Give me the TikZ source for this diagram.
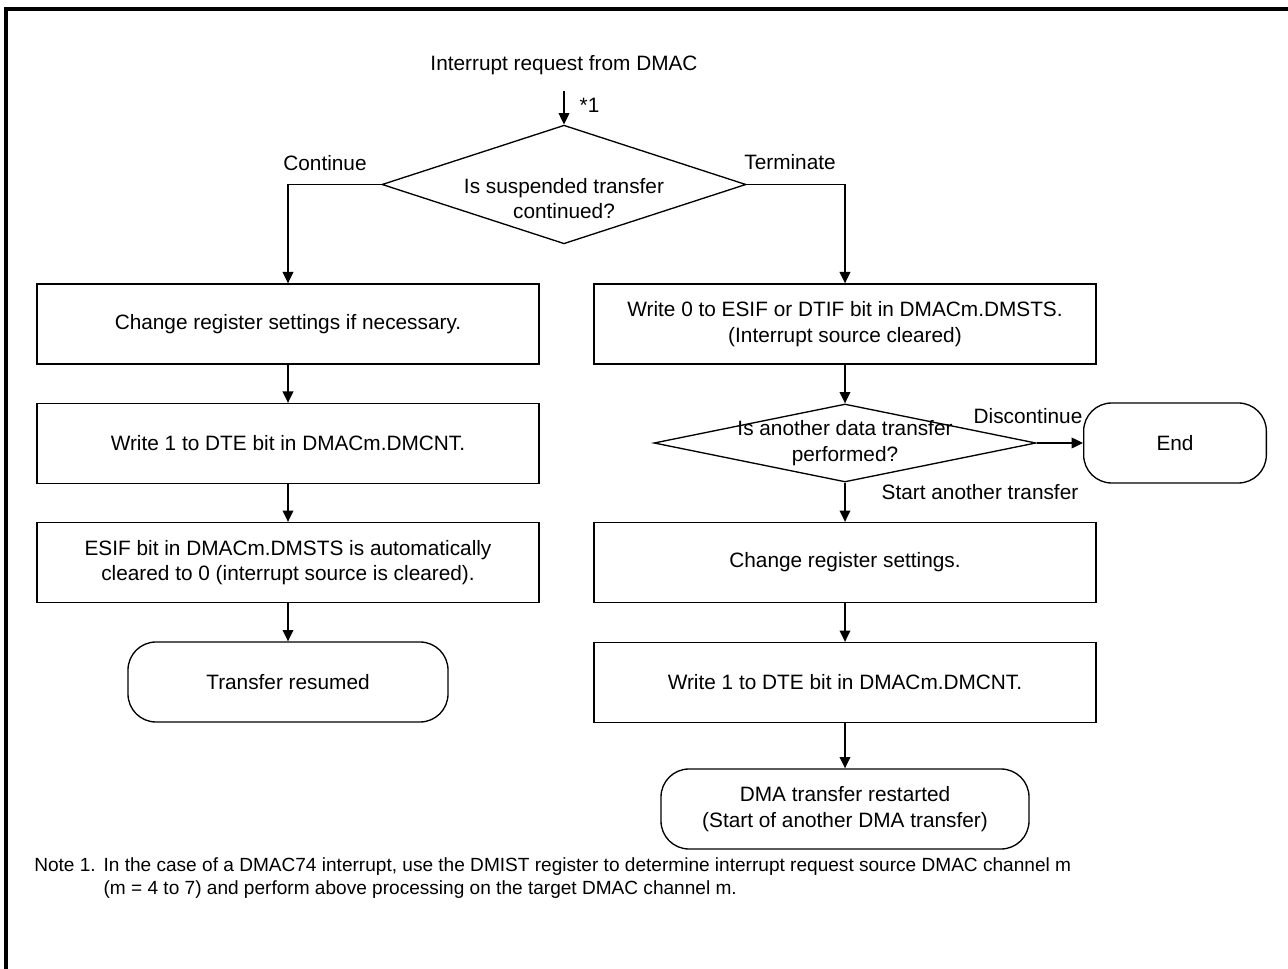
\documentclass[tikz,border=0pt]{standalone}
\usepackage{fontspec}
\setmainfont{Liberation Sans}
\usetikzlibrary{positioning,arrows.meta,shapes.geometric}

\begin{document}
\begin{tikzpicture}[x=0.75pt,y=-0.75pt,>={Triangle[length=8.5pt,width=8pt]},
  every node/.style={font=\fontsize{15.6}{19}\selectfont},
  proc/.style={draw,line width=1pt,minimum width=376.5pt,minimum height=60pt,align=center},
  term/.style={draw,line width=1pt,rounded corners=21pt,minimum height=60pt,align=center},
  decision/.style={draw,line width=1pt,diamond,align=center,inner sep=-6pt},
  arr/.style={->,line width=1pt}]
\useasboundingbox (0,0) rectangle (1288,969);
% outer frame (cut at right and bottom)
\draw[line width=2.4pt] (6,980) -- (6,9) -- (1300,9);

% start and first decision
\node[outer ysep=9pt] (start) at (564,65) {Interrupt request from DMAC};
\node[decision,aspect=3.07,minimum width=273pt,minimum height=89pt] (q1) at (564,184.5)
  {\rule{0pt}{32pt}Is suspended transfer\\continued?};
\draw[arr] (start.south) -- (q1.north);
\node[anchor=west] (star) at (575,105) {*1};

% left branch
\node[proc] (b1) at (288,324) {Change register settings if necessary.};
\node[proc] (b2) at (288,443.5) {Write 1 to DTE bit in DMACm.DMCNT.};
\node[proc] (b3) at (288,562.5) {ESIF bit in DMACm.DMSTS is automatically\\cleared to 0 (interrupt source is cleared).};
\node[term,minimum width=240pt] (bend) at (288,682) {Transfer resumed};
\draw[arr] (q1.west) -| (b1.north);
\node (cont) at (325,163) {Continue};
\draw[arr] (b1) -- (b2);
\draw[arr] (b2) -- (b3);
\draw[arr] (b3) -- (bend);

% right branch
\node[proc] (r1) at (845,324) {Write 0 to ESIF or DTIF bit in DMACm.DMSTS.\\(Interrupt source cleared)};
\node[decision,aspect=4.9,minimum width=286.5pt,minimum height=58.5pt] (q2) at (845,443)
  {Is another data transfer\\performed?};
\node[term,minimum width=137pt] (fin) at (1175,443) {End};
\node[proc] (r2) at (845,562.5) {Change register settings.};
\node[proc] (r3) at (845,682.5) {Write 1 to DTE bit in DMACm.DMCNT.};
\node[term,minimum width=276pt] (rend) at (845,809) {DMA transfer restarted\\(Start of another DMA transfer)};
\draw[arr] (q1.east) -| (r1.north);
\node (term) at (790,162) {Terminate};
\draw[arr] (r1) -- (q2);
\draw[arr] (q2) -- (fin);
\node (disc) at (1028,416) {Discontinue};
\draw[arr] (q2) -- (r2);
\node (again) at (980,492) {Start another transfer};
\draw[arr] (r2) -- (r3);
\draw[arr] (r3) -- (rend);

% note
\node[anchor=north west,align=left,inner sep=0pt,font=\fontsize{14.3}{17.5}\selectfont] (note) at (34,857)
  {\makebox[52pt][l]{Note 1.}In the case of a DMAC74 interrupt, use the DMIST register to determine interrupt request source DMAC channel m\\
   \hspace*{52pt}(m = 4 to 7) and perform above processing on the target DMAC channel m.};
\end{tikzpicture}
\end{document}
